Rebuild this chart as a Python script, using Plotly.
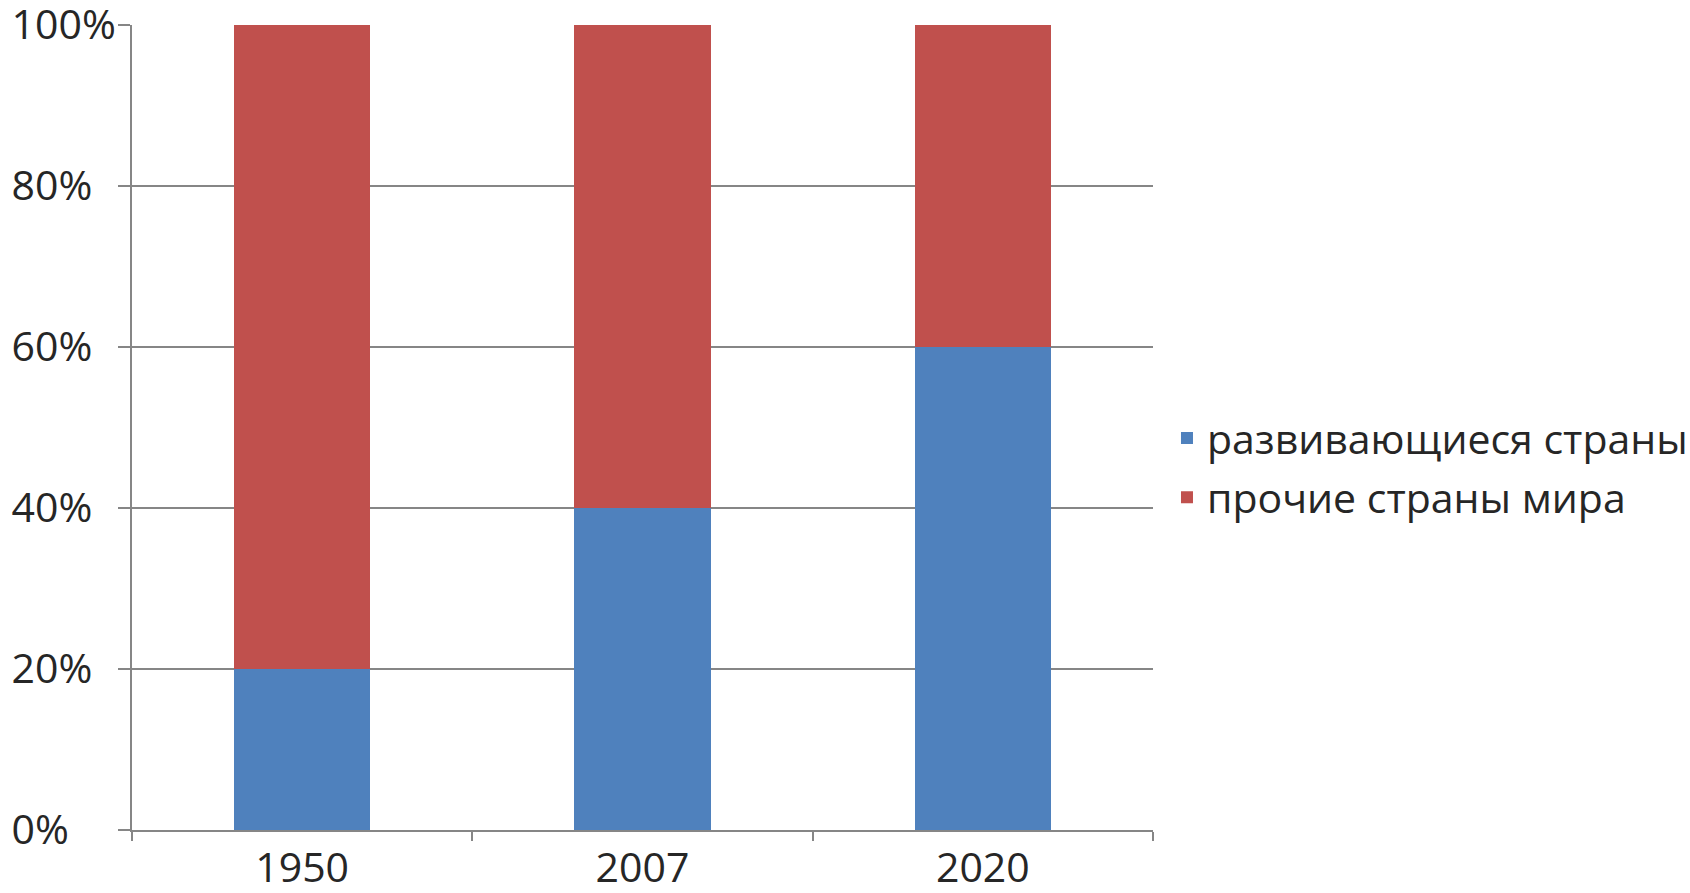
import plotly.graph_objects as go

years = ["1950", "2007", "2020"]
developing = [20, 40, 60]
other = [80, 60, 40]
series_names = ["развивающиеся страны", "прочие страны мира"]
y_ticks = [0, 20, 40, 60, 80, 100]
y_tick_labels = ["0%", "20%", "40%", "60%", "80%", "100%"]

# labels are left-aligned in the original: pad with figure spaces (digit width)
FIG_SPACE = "\u2007"
max_len = max(len(t) for t in y_tick_labels)
y_tick_text = [t + FIG_SPACE * (max_len - len(t)) for t in y_tick_labels]

FONT = "Open Sans"
fig = go.Figure()
fig.add_trace(go.Bar(x=years, y=developing, name=series_names[0],
                     marker=dict(color="#4F81BD", line=dict(width=0)), width=0.4,
                     legendgroup="a"))
fig.add_trace(go.Bar(x=years, y=other, name=series_names[1],
                     marker=dict(color="#C0504D", line=dict(width=0)), width=0.4,
                     legendgroup="b"))

fig.update_layout(
    barmode="stack",
    width=1690, height=893,
    margin=dict(l=132, r=537, t=25, b=63, pad=0, autoexpand=False),
    paper_bgcolor="white", plot_bgcolor="white",
    font=dict(family=FONT, color="#262626"),
    legend=dict(x=1.0137, y=0.450, xanchor="left", yanchor="middle",
                traceorder="grouped", tracegroupgap=3,
                font=dict(size=41, family=FONT, color="#262626"),
                itemwidth=30),
    showlegend=True,
)
fig.update_xaxes(type="category", tickson="boundaries", ticks="outside", ticklen=9,
                 tickcolor="#868686", tickwidth=2, showline=True, linecolor="#868686",
                 linewidth=2, tickfont=dict(size=41, family=FONT, color="#262626"),
                 ticklabelstandoff=1, automargin=False,
                 showgrid=False, range=[-0.5, 2.5])
fig.update_yaxes(range=[0, 100], tickmode="array", tickvals=y_ticks, ticktext=y_tick_text,
                 ticks="outside", ticklen=12, tickcolor="#868686", tickwidth=2,
                 showline=True, linecolor="#868686", linewidth=2,
                 showgrid=True, gridcolor="#868686", gridwidth=2,
                 ticklabelstandoff=-6, automargin=False, ticklabeloverflow="allow",
                 tickfont=dict(size=41, family=FONT, color="#262626"), zeroline=False)

fig.write_html("out.html", config={"displayModeBar": False},
               post_script="document.body.style.margin='0';")
